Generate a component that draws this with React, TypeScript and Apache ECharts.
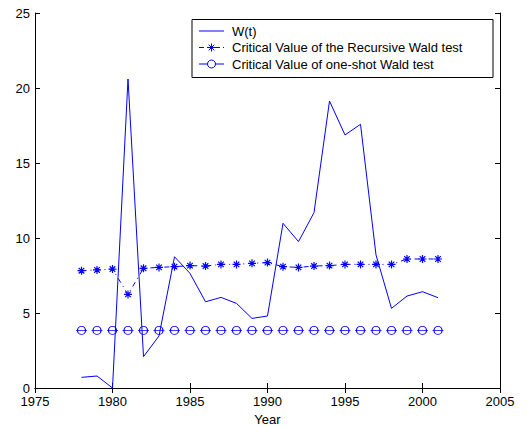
import React, { useEffect, useRef } from "react";
import * as echarts from "echarts";

const years = [1978, 1979, 1980, 1981, 1982, 1983, 1984, 1985, 1986, 1987, 1988, 1989, 1990, 1991, 1992, 1993, 1994, 1995, 1996, 1997, 1998, 1999, 2000, 2001];
const wStat = [0.71, 0.8, 0.0, 20.6, 2.09, 3.47, 8.75, 7.64, 5.75, 6.04, 5.64, 4.64, 4.8, 10.98, 9.76, 11.69, 19.13, 16.87, 17.58, 8.87, 5.31, 6.13, 6.42, 6.02];
const recursiveCV = [7.82, 7.87, 7.93, 6.24, 7.98, 8.04, 8.09, 8.16, 8.13, 8.24, 8.24, 8.31, 8.36, 8.09, 8.04, 8.13, 8.16, 8.24, 8.24, 8.24, 8.24, 8.6, 8.6, 8.6];
const oneShotCV = years.map(() => 3.84);
const legendNames = ["W(t)", "Critical Value of the Recursive Wald test", "Critical Value of one-shot Wald test"];
const xTicks = { min: 1975, max: 2005, interval: 5 };
const yTicks = { min: 0, max: 25, interval: 5 };

const BLUE = "#0000ff";
const FONT = "Liberation Sans, Arial, sans-serif";
const FS = 13;
const STAR = "path://M5 0 L5 10 M0 5 L10 5 M1.5 1.5 L8.5 8.5 M1.5 8.5 L8.5 1.5";
const CIRC = "path://M0 4 L11 4 M1.5 4 A4 4 0 1 1 9.5 4 A4 4 0 1 1 1.5 4";

export default function App() {
  const ref = useRef<HTMLDivElement>(null);
  useEffect(() => {
    if (!ref.current) return;
    const chart = echarts.init(ref.current, undefined, { renderer: "svg" });
    const axisCommon = {
      type: "value" as const,
      axisLine: { show: true, lineStyle: { color: "#000", width: 1 } },
      axisTick: { show: true, inside: true, length: 5, lineStyle: { color: "#000" } },
      splitLine: { show: false },
    };
    const lx0 = 199, lx1 = 224, lxc = 211.5;
    const rows = [31, 47.5, 64];
    const lineStroke = { stroke: BLUE, lineWidth: 1 };
    chart.setOption({
      animation: false,
      backgroundColor: "#fff",
      grid: { left: 35, right: 27, top: 13, bottom: 39, outerBoundsMode: "none", containLabel: false },
      xAxis: [
        {
          ...axisCommon,
          ...xTicks,
          name: "Year",
          nameLocation: "middle",
          nameGap: 25,
          nameTextStyle: { color: "#000", fontSize: FS, fontFamily: FONT },
          axisLabel: { color: "#000", fontSize: FS, lineHeight: 11, fontFamily: FONT, margin: 8, formatter: (v: number) => String(v) },
        },
        {
          ...axisCommon,
          ...xTicks,
          position: "top",
          axisLabel: { show: false },
        },
      ],
      yAxis: [
        {
          ...axisCommon,
          ...yTicks,
          axisLabel: { color: "#000", fontSize: FS, lineHeight: 11, fontFamily: FONT, margin: 5 },
        },
        {
          ...axisCommon,
          ...yTicks,
          position: "right",
          axisLabel: { show: false },
        },
      ],
      graphic: [
        {
          type: "group",
          z: 100,
          children: [
            { type: "rect", shape: { x: 192, y: 19.5, width: 301, height: 58 }, style: { fill: "#fff", stroke: "#000", lineWidth: 1 } },
            { type: "line", shape: { x1: lx0, y1: rows[0], x2: lx1, y2: rows[0] }, style: lineStroke },
            { type: "line", shape: { x1: lx0, y1: rows[1], x2: lx1, y2: rows[1] }, style: { ...lineStroke, lineDash: [5, 3] } },
            { type: "line", shape: { x1: lxc, y1: rows[1] - 4, x2: lxc, y2: rows[1] + 4 }, style: lineStroke },
            { type: "line", shape: { x1: lxc - 4, y1: rows[1], x2: lxc + 4, y2: rows[1] }, style: lineStroke },
            { type: "line", shape: { x1: lxc - 2.8, y1: rows[1] - 2.8, x2: lxc + 2.8, y2: rows[1] + 2.8 }, style: lineStroke },
            { type: "line", shape: { x1: lxc - 2.8, y1: rows[1] + 2.8, x2: lxc + 2.8, y2: rows[1] - 2.8 }, style: lineStroke },
            { type: "line", shape: { x1: lx0, y1: rows[2], x2: lx1, y2: rows[2] }, style: lineStroke },
            { type: "circle", shape: { cx: lxc, cy: rows[2], r: 4 }, style: { fill: "#fff", stroke: BLUE, lineWidth: 1 } },
            ...legendNames.map((t, i) => ({
              type: "text",
              x: 232,
              y: rows[i],
              style: { text: t, fill: "#000", font: `${FS}px ${FONT}`, textVerticalAlign: "middle", textAlign: "left" },
            })),
          ],
        },
      ],
      series: [
        {
          name: legendNames[0],
          type: "line",
          data: years.map((y, i) => [y, wStat[i]]),
          symbol: "none",
          color: BLUE,
          lineStyle: { color: BLUE, width: 1 },
          z: 3,
        },
        {
          name: legendNames[1],
          type: "line",
          data: years.map((y, i) => [y, recursiveCV[i]]),
          symbol: STAR,
          symbolSize: 8,
          color: BLUE,
          itemStyle: { color: "rgba(0,0,0,0)", borderColor: BLUE, borderWidth: 1.2 },
          lineStyle: { color: BLUE, width: 1, type: [5, 4, 1, 4] },
          z: 2,
        },
        {
          name: legendNames[2],
          type: "line",
          data: years.map((y, i) => [y, oneShotCV[i]]),
          symbol: CIRC,
          symbolSize: [11, 8],
          color: BLUE,
          itemStyle: { color: "rgba(0,0,0,0)", borderColor: BLUE, borderWidth: 1 },
          lineStyle: { color: BLUE, width: 0, opacity: 0 },
          z: 2,
        },
      ],
    });
    return () => chart.dispose();
  }, []);
  return <div ref={ref} style={{ width: 527, height: 427, position: "absolute", left: 0, top: 0 }} />;
}
